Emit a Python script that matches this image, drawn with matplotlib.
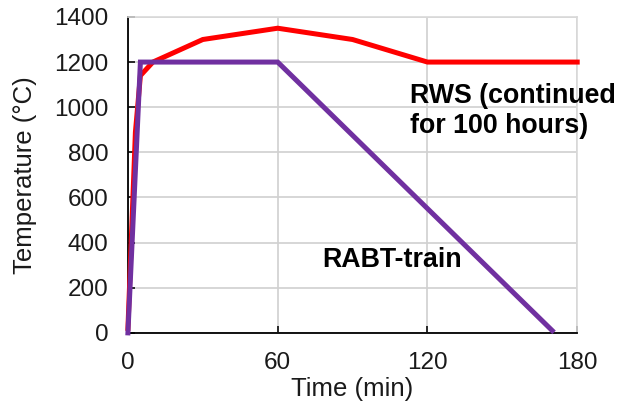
import matplotlib
matplotlib.use("Agg")
import matplotlib.pyplot as plt

plt.rcParams['font.family'] = ['Liberation Sans', 'DejaVu Sans']

# Fire curves: time (min) vs temperature (°C)
rws_time = [0, 3, 5, 10, 30, 60, 90, 120, 180]
rws_temp = [20, 890, 1140, 1200, 1300, 1350, 1300, 1200, 1200]

rabt_time = [0, 5, 60, 170]
rabt_temp = [0, 1200, 1200, 10]

x_ticks = [0, 60, 120, 180]
y_ticks = [0, 200, 400, 600, 800, 1000, 1200, 1400]

fig = plt.figure(figsize=(6.18, 4.13), dpi=100)
ax = fig.add_axes([0.207, 0.194, 0.727, 0.765])

ax.plot(rws_time, rws_temp, color='#FF0000', lw=3.6, solid_joinstyle='miter', clip_on=False, zorder=3)
ax.plot(rabt_time, rabt_temp, color='#7030A0', lw=3.6, solid_joinstyle='miter', clip_on=False, zorder=4)

ax.set_xlim(0, 180)
ax.set_ylim(0, 1400)
ax.set_xticks(x_ticks)
ax.set_yticks(y_ticks)

ax.grid(True, color='#D0D0D0', lw=1.2, zorder=0)
ax.set_axisbelow(True)
for side in ('top', 'right'):
    ax.spines[side].set_color('#D9D9D9')
    ax.spines[side].set_linewidth(1.2)
for side in ('left', 'bottom'):
    ax.spines[side].set_color('black')
    ax.spines[side].set_linewidth(1.3)

ax.tick_params(direction='in', length=5, width=1.3, labelsize=17.5, colors='#1a1a1a')
ax.tick_params(axis='y', pad=14)
ax.tick_params(axis='x', pad=14)

ax.set_xlabel('Time (min)', fontsize=18.5, labelpad=2, color='#1a1a1a')
ax.set_ylabel('Temperature (\u00b0C)', fontsize=18.5, labelpad=12, color='#1a1a1a')

label_style = dict(fontsize=19.3, fontweight='bold', ha='left', va='baseline', color='black')
ax.text(113, 1019, 'RWS (continued', **label_style)
ax.text(113, 886, 'for 100 hours)', **label_style)
ax.text(78, 290, 'RABT-train', **label_style)

fig.savefig('out.png', dpi=100)
